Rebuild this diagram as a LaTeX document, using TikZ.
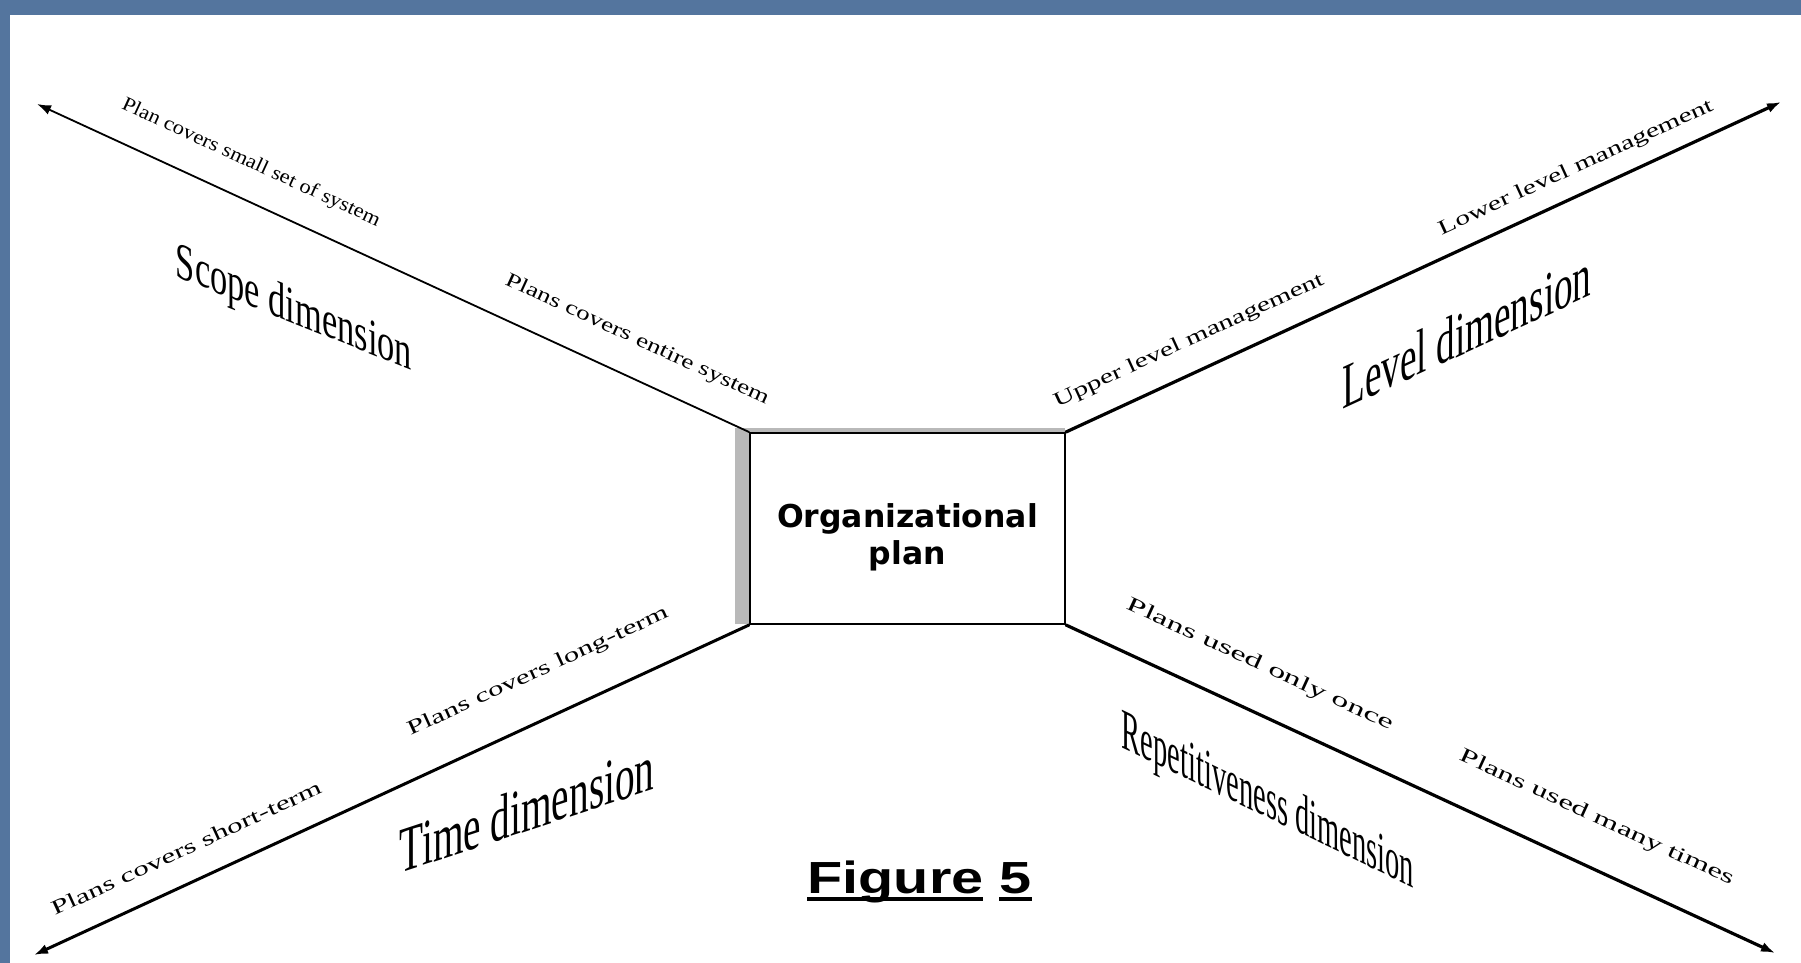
\documentclass[tikz,border=0pt]{standalone}
\usepackage{fontspec}
\usepackage{graphicx}
\usetikzlibrary{arrows.meta}
\newfontfamily\tnr{Liberation Serif}
\newfontfamily\arl{Liberation Sans}
\newfontfamily\dvs{DejaVu Sans}
\definecolor{slide}{RGB}{84,117,158}
\newcommand\myul[1]{\setbox0\hbox{#1}\rlap{\rule[-7pt]{\wd0}{3.5pt}}\box0}
\begin{document}
\begin{tikzpicture}[x=1pt,y=-1pt,
  axis/.style={draw=black, line cap=round, -{Latex[length=14pt,width=10pt]}},
  small/.style={inner sep=0pt},
  big/.style={inner sep=0pt},
  bevel/.style={fill=gray!55, draw=none}]
\useasboundingbox (0,0) rectangle (1801,963);
\fill[slide] (0,0) rectangle (1801,963);
\fill[white] (10,15) rectangle (1801,963);
% bevel shading of the box
\fill[bevel] (735,428) rectangle (750,624);
\fill[bevel] (735,428) rectangle (1065,433);
\node[draw, line width=2pt, fill=white, minimum width=315pt, minimum height=191pt, inner sep=0pt] (plan) at (907.5,528.5) {};
\node[font=\dvs\bfseries\fontsize{31.5}{37}\selectfont, align=center, inner sep=0pt] (plantext) at (907.5,537) {Organizational\\plan};
% arrow ends
\coordinate (tl) at (37,104);
\coordinate (tr) at (1781,102);
\coordinate (bl) at (34,955);
\coordinate (br) at (1775,953);
\draw[axis, line width=1.8pt] (plan.north west) -- (tl);
\draw[axis, line width=3.2pt] (plan.north east) -- (tr);
\draw[axis, line width=3pt] (plan.south west) -- (bl);
\draw[axis, line width=3.2pt] (plan.south east) -- (br);
% small labels
\node[small, rotate=-24.7] (s1) at (251,163) {\resizebox{282pt}{14pt}{\tnr Plan covers small set of system}};
\node[small, rotate=-24.7] (s2) at (637,340) {\resizebox{288pt}{14pt}{\tnr Plans covers entire system}};
\node[small, rotate=24.7] (l1) at (1189,341) {\resizebox{295pt}{14pt}{\tnr Upper level management}};
\node[small, rotate=24.7] (l2) at (1576,168) {\resizebox{300pt}{14pt}{\tnr Lower level management}};
\node[small, rotate=24.7] (t1) at (538,672) {\resizebox{285pt}{14pt}{\tnr Plans covers long-term}};
\node[small, rotate=24.7] (t2) at (186,848) {\resizebox{295pt}{14pt}{\tnr Plans covers short-term}};
\node[small, rotate=-24.7] (r1) at (1260,665) {\resizebox{291pt}{14pt}{\tnr Plans used only once}};
\node[small, rotate=-24.7] (r2) at (1597,818) {\resizebox{300pt}{14pt}{\tnr Plans used many times}};
% big labels
\node[big, yslant=-0.40] (scope) at (294,311) {\resizebox{236pt}{36pt}{\tnr Scope dimension}};
\node[big, yslant=0.46] (level) at (1467,331) {\resizebox{249pt}{44pt}{\tnr Level dimension}};
\node[big, yslant=0.33] (time) at (527,809) {\resizebox{255pt}{45pt}{\tnr Time dimension}};
\node[big, yslant=-0.48] (rep) at (1268,804) {\resizebox{292pt}{40pt}{\tnr Repetitiveness dimension}};
% caption
\node[inner sep=0pt] (fig) at (919.5,882) {\scalebox{1.28}[1]{\arl\bfseries\fontsize{45}{50}\selectfont\myul{Figure}\ \myul{5}}};
\end{tikzpicture}
\end{document}
